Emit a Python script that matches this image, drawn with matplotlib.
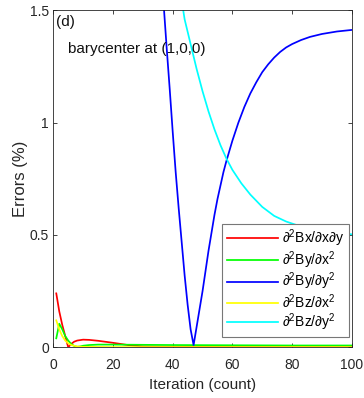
import matplotlib
matplotlib.use("Agg")
import matplotlib.pyplot as plt

plt.rcParams['font.family'] = ['Liberation Sans', 'DejaVu Sans']
plt.rcParams['mathtext.fontset'] = 'custom'
plt.rcParams['mathtext.rm'] = 'Liberation Sans'
plt.rcParams['mathtext.it'] = 'Liberation Sans:italic'

# Relative error (%) of each second-derivative component versus iteration
it_bxy = [1, 2, 3, 4, 5, 6, 7, 8, 10, 12, 15, 20, 25, 30, 40, 60, 80, 100]
err_bxy = [0.24, 0.16, 0.10, 0.05, 0.0, 0.015, 0.025, 0.030, 0.034, 0.033,
           0.029, 0.020, 0.010, 0.004, 0.002, 0.002, 0.002, 0.002]

it_byxx = [1, 2, 3, 4, 5, 6, 7, 8, 9, 10, 12, 15, 20, 30, 40, 60, 80, 100]
err_byxx = [0.04, 0.105, 0.08, 0.05, 0.03, 0.015, 0.006, 0.002, 0.004, 0.007,
            0.010, 0.012, 0.012, 0.011, 0.010, 0.009, 0.008, 0.008]

it_byyy = [1, 10, 20, 30, 34, 36, 37, 38, 39, 40, 41, 42, 43, 44, 45, 46, 47,
           48, 49, 50, 51, 52, 53, 54, 55, 56, 57, 58, 60, 62, 64, 66, 68, 70,
           72, 74, 76, 78, 80, 83, 86, 90, 95, 100]
err_byyy = [6.0, 4.8, 3.8, 2.9, 2.2, 1.71, 1.52, 1.33, 1.15, 0.96, 0.78, 0.62,
            0.47, 0.32, 0.19, 0.08, 0.01,
            0.09, 0.17, 0.25, 0.34, 0.43, 0.51, 0.59, 0.66, 0.72, 0.78, 0.83,
            0.92, 1.00, 1.07, 1.13, 1.18, 1.225, 1.26, 1.29, 1.315, 1.335,
            1.35, 1.368, 1.382, 1.395, 1.406, 1.413]

it_bzxx = [1, 2, 3, 4, 5, 6, 8, 10, 20, 40, 60, 80, 100]
err_bzxx = [0.12, 0.08, 0.05, 0.03, 0.018, 0.010, 0.004, 0.002, 0.001,
            0.001, 0.001, 0.001, 0.001]

it_bzyy = [1, 10, 20, 30, 40, 42, 44, 46, 48, 50, 52, 54, 56, 58, 60, 63, 66,
           70, 74, 78, 82, 86, 90, 95, 100]
err_bzyy = [9.0, 7.0, 5.0, 3.3, 1.82, 1.63, 1.46, 1.35, 1.24, 1.14, 1.05,
            0.97, 0.90, 0.84, 0.79, 0.73, 0.68, 0.625, 0.585, 0.56, 0.542,
            0.53, 0.52, 0.51, 0.503]

labels = ['\u2202$^2$Bx/\u2202x\u2202y', '\u2202$^2$By/\u2202x$^2$',
          '\u2202$^2$By/\u2202y$^2$', '\u2202$^2$Bz/\u2202x$^2$',
          '\u2202$^2$Bz/\u2202y$^2$']
colors = ['#ff0000', '#00ff00', '#0000ff', '#ffff00', '#00ffff']

fig = plt.figure(figsize=(3.64, 3.98), dpi=100)
ax = fig.add_axes([0.1464, 0.1274, 0.8201, 0.8465])

series = [(it_bxy, err_bxy), (it_byxx, err_byxx), (it_byyy, err_byyy),
          (it_bzxx, err_bzxx), (it_bzyy, err_bzyy)]
for (x, y), c, lab in zip(series, colors, labels):
    ax.plot(x, y, color=c, lw=1.25, label=lab)

ax.set_xlim(0, 100)
ax.set_ylim(0, 1.5)
ax.set_xticks([0, 20, 40, 60, 80, 100])
ax.set_yticks([0, 0.5, 1, 1.5])
ax.set_yticklabels(['0', '0.5', '1', '1.5'])
ax.tick_params(direction='in', top=True, right=True, length=3, width=0.6,
               labelsize=10, colors='#262626', pad=3)
ax.tick_params(axis='x', pad=8)
for s in ax.spines.values():
    s.set_linewidth(0.6)
    s.set_color('#262626')

ax.set_xlabel('Iteration (count)', fontsize=11, color='#262626', labelpad=4)
ax.set_ylabel('Errors (%)', fontsize=12, color='#262626', labelpad=1)

ax.text(0.008, 0.985, '(d)', transform=ax.transAxes, fontsize=11,
        va='top', ha='left', color='#111111')
ax.text(0.05, 0.885, 'barycenter at (1,0,0)', transform=ax.transAxes,
        fontsize=11, va='center', ha='left', color='#111111')

leg = ax.legend(loc='lower right', bbox_to_anchor=(0.99, 0.031), fontsize=10,
                fancybox=False, framealpha=1, edgecolor='#777777',
                handlelength=3.7, handletextpad=0.3, labelspacing=0.0,
                borderpad=0.3, borderaxespad=0)
leg.get_frame().set_linewidth(0.8)

fig.savefig('out.png', dpi=100)
